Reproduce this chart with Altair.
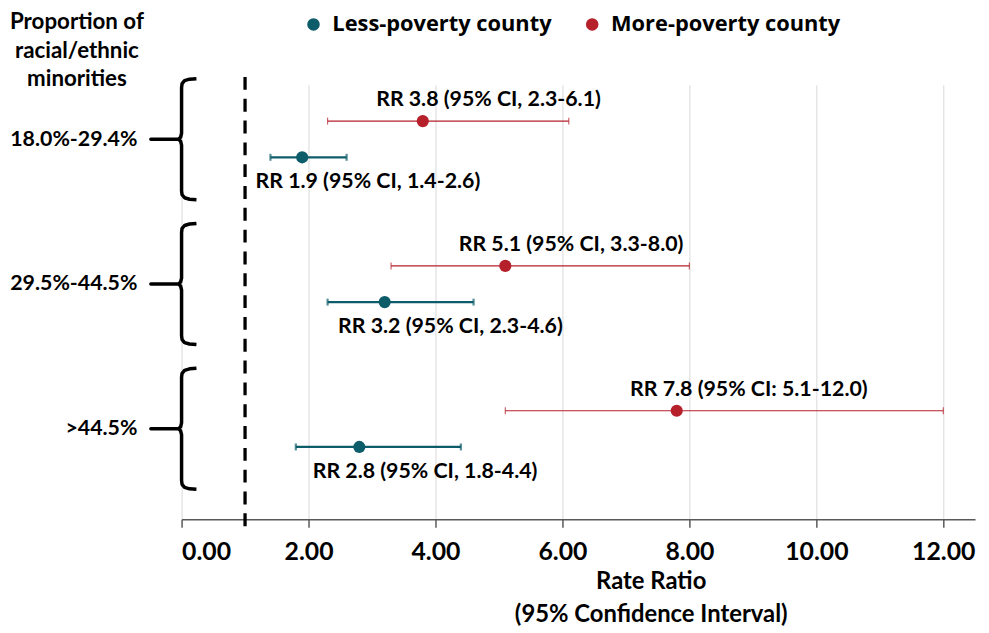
import altair as alt
import pandas as pd

# ---- data ----
groups = ["18.0%-29.4%", "29.5%-44.5%", ">44.5%"]
series = ["Less-poverty county", "More-poverty county"]
colors = ["#0D5C69", "#B5202A"]
bar_widths = [2.2, 1.2]

rr_less = [1.9, 3.2, 2.8]
lo_less = [1.4, 2.3, 1.8]
hi_less = [2.6, 4.6, 4.4]
lab_less = ["RR 1.9 (95% CI, 1.4-2.6)", "RR 3.2 (95% CI, 2.3-4.6)", "RR 2.8 (95% CI, 1.8-4.4)"]

rr_more = [3.8, 5.1, 7.8]
lo_more = [2.3, 3.3, 5.1]
hi_more = [6.1, 8.0, 12.0]
lab_more = ["RR 3.8 (95% CI, 2.3-6.1)", "RR 5.1 (95% CI, 3.3-8.0)", "RR 7.8 (95% CI: 5.1-12.0)"]

# row positions (y scale units) within each group
row_more = [1, 5, 9]
row_less = [2, 6, 10]
group_center = [1.5, 5.5, 9.5]

ref_x = [1.0]
ref_y = [-0.22]
ref_y2 = [12.4]

x_ticks = [0, 2, 4, 6, 8, 10, 12]

FONT = "Lato"

rows = []
for i, g in enumerate(groups):
    rows.append(dict(series=series[1], group=g, rr=rr_more[i], lo=lo_more[i], hi=hi_more[i],
                     row=row_more[i], label=lab_more[i], pos="above"))
    rows.append(dict(series=series[0], group=g, rr=rr_less[i], lo=lo_less[i], hi=hi_less[i],
                     row=row_less[i], label=lab_less[i], pos="below"))
df = pd.DataFrame(rows)

# brace outline (px offsets converted to scale units): style template
XU, YU = 64.0, 36.5
brace_tpl = [(15, -61), (8, -60.5), (3, -59), (0.5, -56), (0, -52), (0, -6), (-1, -2), (-3, 0),
             (-31, 0), (-3, 0), (-1, 2), (0, 6), (0, 52), (0.5, 56), (3, 59), (8, 60.5), (15, 61)]
brows = []
for gi, c in enumerate(group_center):
    for k, (dx, dy) in enumerate(brace_tpl):
        brows.append(dict(g=gi, k=k, bx=dx / XU, by=c + dy / YU))
bdf = pd.DataFrame(brows)

label_expr = " : ".join(
    [f"datum.value == {c} ? '{g}'" for c, g in zip(group_center[:-1], groups[:-1])]
) + f" : '{groups[-1]}'"

xscale = alt.Scale(domain=[0, 12.5], nice=False, zero=False)
yscale = alt.Scale(domain=[0, 12], reverse=True, nice=False, zero=False)
cscale = alt.Scale(domain=series, range=colors)

x_axis = alt.Axis(values=x_ticks, format=".2f", grid=True, gridColor="#D9D9D9", gridWidth=1,
                  domainColor="#595959", domainWidth=1.5, tickColor="#595959", tickSize=8, tickWidth=1.5,
                  labelFont=FONT, labelFontSize=25, labelFontWeight="bold", labelColor="#000000",
                  labelPadding=12,
                  title=["Rate Ratio", "(95% Confidence Interval)"], titleFont=FONT, titleFontSize=24,
                  titleFontWeight="bold", titleColor="#000000", titleX=473, titleY=51,
                  titleAlign="center", titleBaseline="top", titleLineHeight=33)
y_axis = alt.Axis(values=group_center, labelExpr=label_expr, grid=False, domain=False, ticks=False,
                  tickSize=0, labelPadding=45, labelFont=FONT, labelFontSize=21.5, labelFontWeight="bold",
                  labelColor="#000000",
                  title=["Proportion of", "racial/ethnic", "minorities"], titleAngle=0,
                  titleFont=FONT, titleFontSize=22.5, titleFontWeight="bold", titleColor="#000000",
                  titleX=-106, titleY=-75, titleAlign="center", titleBaseline="top", titleLineHeight=29)

base = alt.Chart(df)

layers = []
# reference line at RR = 1
layers.append(alt.Chart(pd.DataFrame({"x": ref_x, "y": ref_y, "y2": ref_y2})).mark_rule(
    color="#000000", strokeWidth=3.3, strokeDash=[13, 9]).encode(
    x=alt.X("x:Q", scale=xscale, axis=x_axis), y=alt.Y("y:Q", scale=yscale, axis=y_axis), y2="y2:Q"))

# braces
layers.append(alt.Chart(bdf).mark_line(color="#000000", strokeWidth=3.5, strokeJoin="round", clip=False).encode(
    x=alt.X("bx:Q", scale=xscale), y=alt.Y("by:Q", scale=yscale), detail="g:N", order="k:Q"))

# error bars with caps, per series
for s, col, w in zip(series, colors, bar_widths):
    sb = base.transform_filter(alt.datum.series == s)
    layers.append(sb.mark_rule(color=col, strokeWidth=w).encode(
        x=alt.X("lo:Q", scale=xscale), x2="hi:Q", y=alt.Y("row:Q", scale=yscale)))
    for fld in ["lo", "hi"]:
        layers.append(sb.mark_tick(orient="vertical", size=7, color=col, thickness=w).encode(
            x=alt.X(f"{fld}:Q", scale=xscale), y=alt.Y("row:Q", scale=yscale)))

# points with legend
layers.append(base.mark_circle(size=150, opacity=1).encode(
    x=alt.X("rr:Q", scale=xscale), y=alt.Y("row:Q", scale=yscale),
    color=alt.Color("series:N", scale=cscale, legend=alt.Legend(
        title=None, orient="none", direction="horizontal", legendX=122, legendY=-72,
        labelFont="Open Sans", labelFontSize=22, labelFontWeight="bold", labelColor="#000000",
        labelLimit=400,
        symbolSize=160, symbolType="circle", symbolStrokeWidth=0, symbolOpacity=1,
        labelOffset=8, columnPadding=29, padding=0)),
))

# annotations
for pos, dy in [("above", -21), ("below", 25)]:
    layers.append(base.transform_filter(alt.datum.pos == pos).mark_text(
        align="left", baseline="middle", dx=-47, dy=dy, font=FONT, fontSize=21.5, fontWeight="bold",
        color="#000000").encode(x=alt.X("rr:Q", scale=xscale), y=alt.Y("row:Q", scale=yscale),
                                text="label:N"))

chart = alt.layer(*layers).properties(
    width=800, height=438,
    autosize=alt.AutoSizeParams(type="none"),
    padding={"left": 175, "top": 75, "right": 6, "bottom": 105},
).configure_view(stroke=None)

chart.save("out.html", embed_options={"renderer": "svg", "actions": False})
